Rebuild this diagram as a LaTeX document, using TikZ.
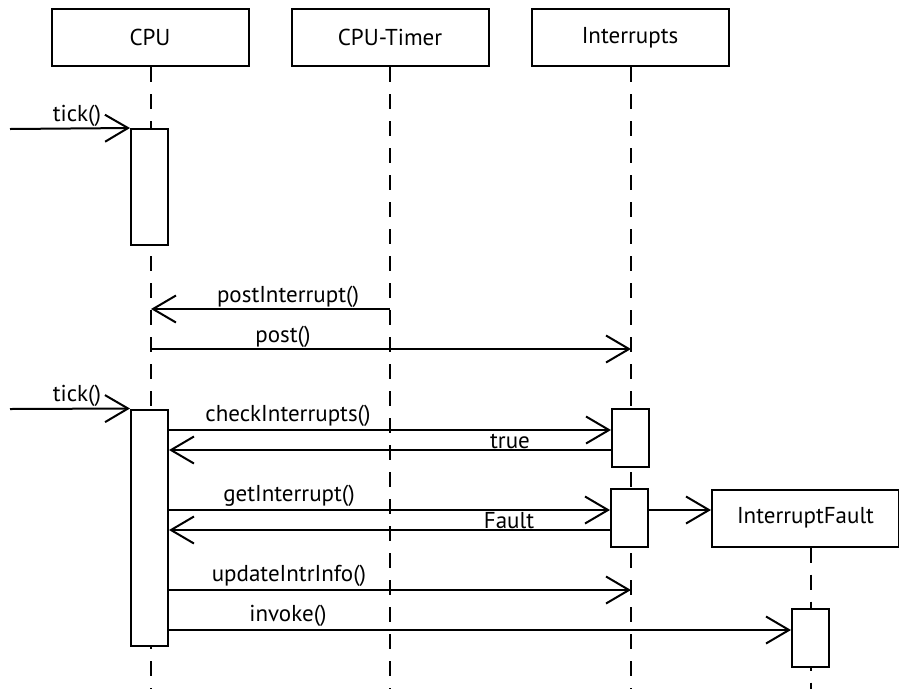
\documentclass[tikz,border=0pt]{standalone}
\usepackage{fontspec}
\setmainfont{PT Sans}
\usetikzlibrary{arrows.meta}
\begin{document}
\begin{tikzpicture}[x=1pt,y=-1pt,
  line width=2pt,
  every node/.style={font=\fontsize{23}{25}\selectfont, inner sep=0pt},
  objbox/.style={draw, fill=white, minimum width=197pt, minimum height=57pt},
  actbox/.style={draw, fill=white, minimum width=37pt},
  lifeline/.style={dash pattern=on 15pt off 12pt},
  msg/.style={-{Straight Barb[length=23pt,width=27pt,line width=2pt]}},
  lbl/.style={anchor=base}
]
\useasboundingbox (0,0) rectangle (899,689);

% participants
\node[objbox] (cpu)   at (150,37.5) {CPU};
\node[objbox] (timer) at (390,37.5) {CPU-Timer};
\node[objbox] (intr)  at (630,37.5) {Interrupts};

% lifeline ends
\coordinate (cpuEnd)   at (151,689);
\coordinate (timerEnd) at (390,689);
\coordinate (intrEnd)  at (631,689);
\coordinate (faultEnd) at (811,689);

\draw[lifeline] (cpu.south -| cpuEnd) -- (cpuEnd);
\draw[lifeline] (timer.south) -- (timerEnd);
\draw[lifeline] (intr.south -| intrEnd) -- (intrEnd);

% activations
\node[actbox, minimum height=116pt] (cpuA1) at (149.5,187) {};
\node[actbox, minimum height=236pt] (cpuA2) at (149.5,527.5) {};
\node[actbox, minimum height=58pt]  (intA1) at (630.5,438) {};
\node[actbox, minimum height=58pt]  (intA2) at (629.5,518) {};

% created object
\node[objbox, minimum width=187pt] (fault) at (805.5,518) {InterruptFault};
\draw[lifeline] (fault.south -| faultEnd) -- (faultEnd);
\node[actbox, minimum height=58pt] (fltA1) at (810.5,638) {};

% incoming calls
\coordinate (in1) at (10,129);
\coordinate (in2) at (10,409);
\draw[msg] (in1) -- (cpuA1.north west);
\node[lbl] at (77,121) {tick()};
\draw[msg] (in2) -- (cpuA2.north west);
\node[lbl] at (77,401) {tick()};

% timer posts an interrupt
\coordinate (r1) at (0,309);
\coordinate (r2) at (0,349);
\draw[msg] (timer |- r1) -- (cpuEnd |- r1);
\node[lbl] at (288,302) {postInterrupt()};
\draw[msg] (cpuEnd |- r2) -- (intrEnd |- r2);
\node[lbl] at (283,342) {post()};

% polling and dispatch
\coordinate (r3) at (0,430);
\coordinate (r4) at (0,450);
\coordinate (r5) at (0,510);
\coordinate (r6) at (0,530);
\coordinate (r7) at (0,590);
\coordinate (r8) at (0,630);

\draw[msg] (cpuA2.east |- r3) -- (intA1.west |- r3);
\node[lbl] at (288,421) {checkInterrupts()};
\draw[msg] (intA1.west |- r4) -- (cpuA2.east |- r4);
\node[lbl] at (510,448) {true};

\draw[msg] (cpuA2.east |- r5) -- (intA2.west |- r5);
\node[lbl] at (289,501) {getInterrupt()};
\draw[msg] (intA2.west |- r6) -- (cpuA2.east |- r6);
\node[lbl] at (509,528) {Fault};
\draw[msg] (intA2.east |- r5) -- (fault.west |- r5);

\draw[msg] (cpuA2.east |- r7) -- (intrEnd |- r7);
\node[lbl] at (289,581) {updateIntrInfo()};
\draw[msg] (cpuA2.east |- r8) -- (fltA1.west |- r8);
\node[lbl] at (288,621) {invoke()};
\end{tikzpicture}
\end{document}
